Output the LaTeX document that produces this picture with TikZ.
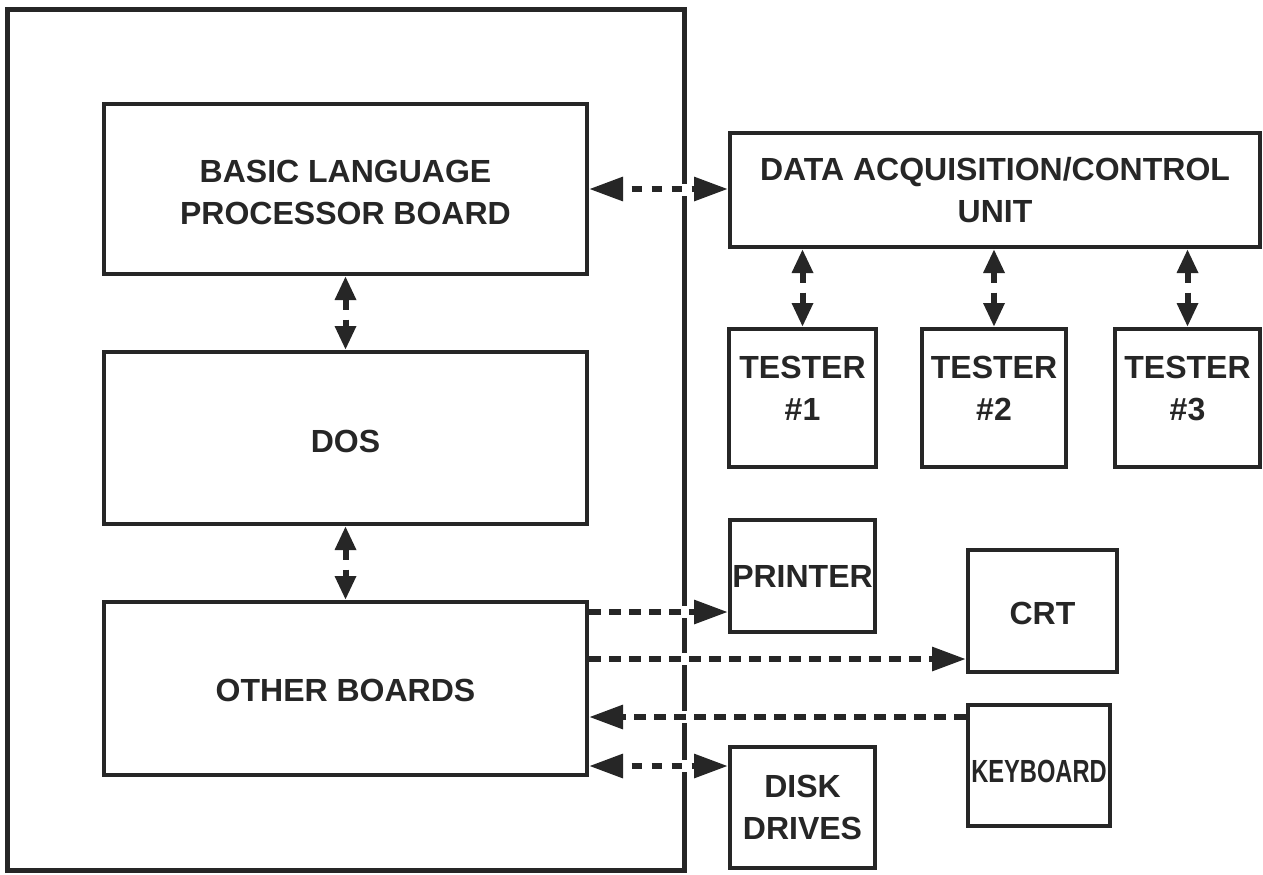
\documentclass[tikz,border=0pt]{standalone}
\usepackage{fontspec}
\setmainfont{Liberation Sans}
\usetikzlibrary{arrows.meta,fit}
\definecolor{ink}{HTML}{262626}
\begin{document}
\begin{tikzpicture}[x=0.5pt,y=-0.5pt,
  box/.style={draw=ink, line width=2pt, inner sep=0pt},
  boxtext/.style={align=center, text=ink, inner sep=0pt,
    font=\fontsize{16}{21}\selectfont\bfseries},
  frame/.style={draw=ink, line width=2.5pt, inner sep=0pt},
  hconn/.style={draw=ink, line width=3pt},
  hhead/.style={-{Triangle[length=17pt,width=11.5pt]}},
  hdbl/.style={hconn, dash pattern=on 5pt off 5pt, dash phase=5pt,
    {Triangle[length=17pt,width=11.5pt]}-{Triangle[length=17pt,width=11.5pt]}},
  hsgl/.style={hconn, hhead, dash pattern=on 6pt off 4pt},
  vdbl/.style={draw=ink, line width=3pt, dash pattern=on 5.5pt off 5pt,
    {Triangle[length=12pt,width=10pt]}-{Triangle[length=12pt,width=10pt]}},
  gapmark/.style={fill=white, draw=none}
]
\fill[white] (0,0) rectangle (1263,874);
\useasboundingbox (0,0) rectangle (1263,874);

% outer frame
\node[frame, fit={(7,9) (684,870)}] (frame) {};

% left boards
\node[box, fit={(104,104) (587,274)},
  label={[boxtext, yshift=-1.5pt]center:{BASIC LANGUAGE\\PROCESSOR BOARD}}] (basic) {};
\node[box, fit={(104,352) (587,524)},
  label={[boxtext, yshift=-1.5pt]center:DOS}] (dos) {};
\node[box, fit={(104,602) (587,775)},
  label={[boxtext, yshift=-1pt]center:OTHER BOARDS}] (other) {};

% right units
\node[box, fit={(730,133) (1260,247)},
  label={[boxtext]center:{DATA ACQUISITION/CONTROL\\UNIT}}] (daq) {};
\node[box, fit={(729,329) (876,467)},
  label={[boxtext, yshift=5pt]center:{TESTER\\\#1}}] (t1) {};
\node[box, fit={(922,329) (1066,467)},
  label={[boxtext, yshift=5pt]center:{TESTER\\\#2}}] (t2) {};
\node[box, fit={(1115,329) (1260,467)},
  label={[boxtext, yshift=5pt]center:{TESTER\\\#3}}] (t3) {};
\node[box, fit={(730,520) (875,632)},
  label={[boxtext]center:PRINTER}] (printer) {};
\node[box, fit={(968,550) (1117,672)},
  label={[boxtext, yshift=-1pt]center:CRT}] (crt) {};
\node[box, fit={(968,705) (1110,826)},
  label={[boxtext, yshift=-3pt]center:{\scalebox{0.74}[1]{KEYBOARD}}}] (keyboard) {};
\node[box, fit={(730,747) (875,868)},
  label={[boxtext]center:{DISK\\DRIVES}}] (disk) {};

% gaps in the frame edge where connectors cross
\foreach \yy in {190,612,659,717,766}
  \fill[gapmark] (679,\yy-6) rectangle (688,\yy+6);

% vertical connectors
\draw[vdbl] (basic.south) -- (dos.north);
\draw[vdbl] (dos.south) -- (other.north);
\draw[vdbl] (t1.north |- daq.south) -- (t1.north);
\draw[vdbl] (t2.north |- daq.south) -- (t2.north);
\draw[vdbl] (t3.north |- daq.south) -- (t3.north);

% horizontal connectors
\draw[hdbl] (basic.east) -- (basic.east -| daq.west);
\draw[hsgl] ([yshift=38.25pt]other.east) coordinate (pa) -- (pa -| printer.west);
\draw[hsgl] ([yshift=14.75pt]other.east) coordinate (ca) -- (ca -| crt.west);
\draw[hsgl] ([yshift=24.25pt]keyboard.west) coordinate (ka) -- (ka -| other.east);
\draw[hdbl] ([yshift=-38.75pt]other.east) coordinate (da) -- (da -| disk.west);
\end{tikzpicture}
\end{document}
